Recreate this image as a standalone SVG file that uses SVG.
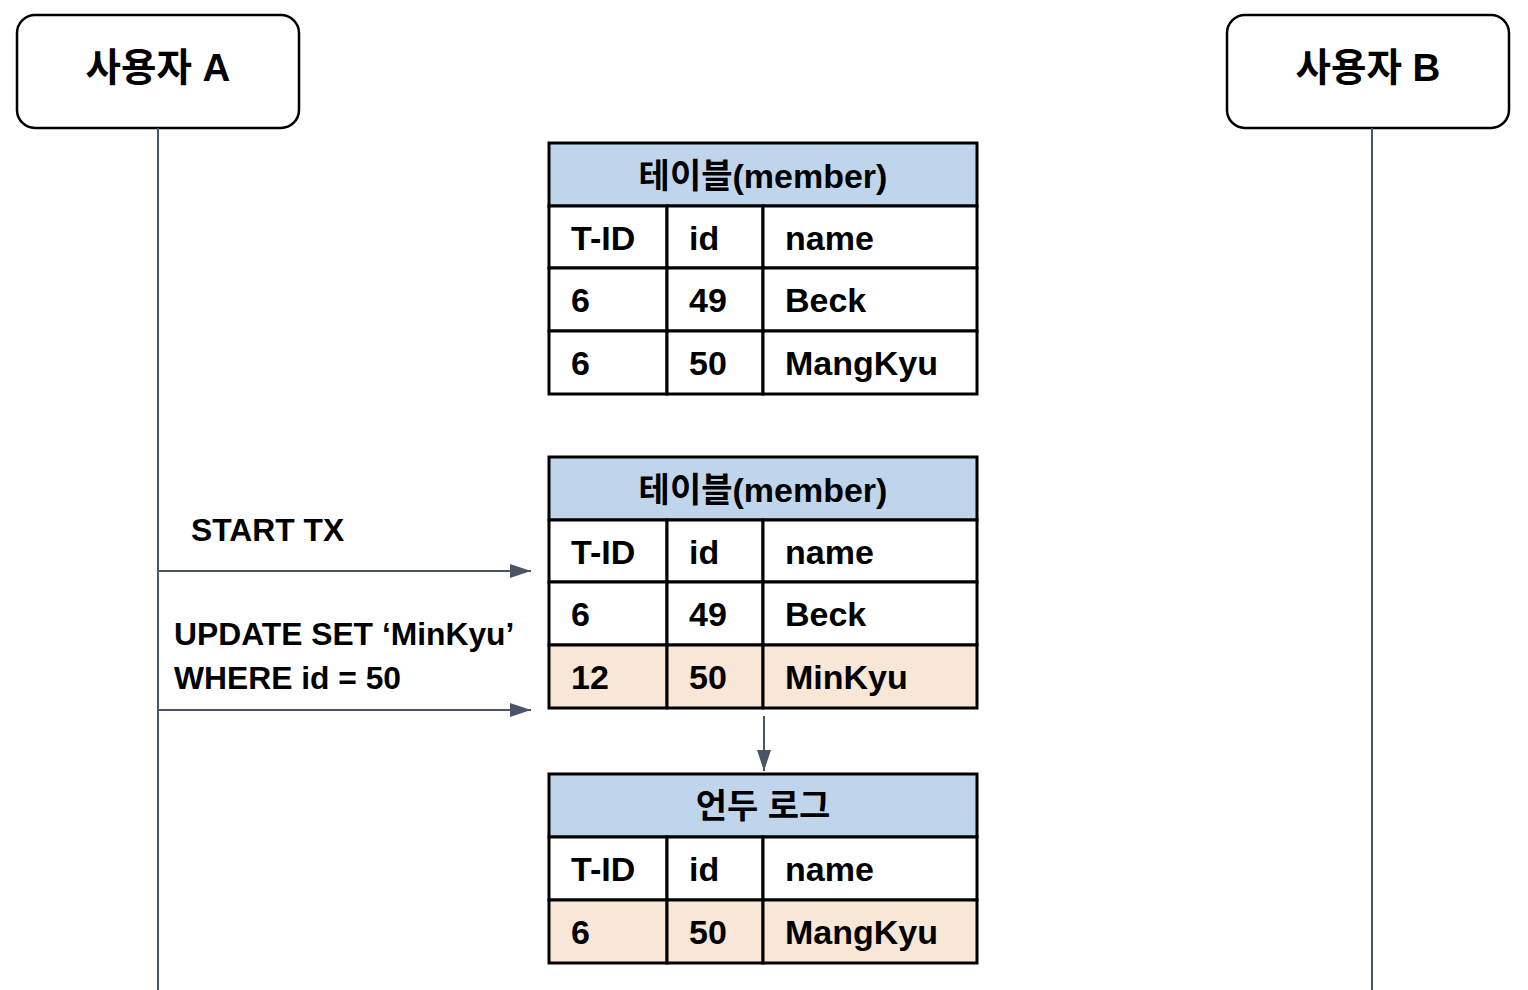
<svg xmlns="http://www.w3.org/2000/svg" width="1528" height="990" viewBox="0 0 1528 990">
<defs>
<marker id="arr" markerWidth="22" markerHeight="16" refX="21" refY="8" orient="auto" markerUnits="userSpaceOnUse">
<path d="M0,1 L21,8 L0,15 Z" fill="#4a5568"/>
</marker>
<style>
text{font-family:"Liberation Sans","Noto Sans CJK KR",Arial,sans-serif;font-weight:bold;fill:#000}
.actor{fill:#fff;stroke:#000;stroke-width:2.5}
.an{font-size:38.5px;text-anchor:middle}
.life{stroke:#4a5568;stroke-width:2;fill:none}
.conn{stroke:#4a5568;stroke-width:2;fill:none;marker-end:url(#arr)}
.hd{fill:#bfd5ec;stroke:#000;stroke-width:3}
.cell{fill:#fff;stroke:#000;stroke-width:3}
.hl{fill:#f8e6d7;stroke:#000;stroke-width:3}
.ht{font-size:34px;text-anchor:middle}
.ct{font-size:34px}
.lbl{font-size:31.8px}
</style>
</defs>
<rect width="1528" height="990" fill="#fff"/>
<g id="userA">
<rect class="actor" x="17" y="15" width="282" height="113" rx="18"/>
<text class="an" x="158" y="81">사용자 A</text>
</g>
<g id="userB">
<rect class="actor" x="1227" y="15" width="282" height="113" rx="18"/>
<text class="an" x="1368" y="81">사용자 B</text>
</g>
<g id="table1">
<rect class="hd" x="549" y="143" width="428" height="63"/>
<text class="ht" x="763" y="188">테이블(member)</text>
<rect class="cell" x="549" y="206" width="118" height="62"/>
<rect class="cell" x="667" y="206" width="96" height="62"/>
<rect class="cell" x="763" y="206" width="214" height="62"/>
<rect class="cell" x="549" y="268" width="118" height="63"/>
<rect class="cell" x="667" y="268" width="96" height="63"/>
<rect class="cell" x="763" y="268" width="214" height="63"/>
<rect class="cell" x="549" y="331" width="118" height="63"/>
<rect class="cell" x="667" y="331" width="96" height="63"/>
<rect class="cell" x="763" y="331" width="214" height="63"/>
<text class="ct" x="571" y="250">T-ID</text><text class="ct" x="689" y="250">id</text><text class="ct" x="785" y="250">name</text>
<text class="ct" x="571" y="312">6</text><text class="ct" x="689" y="312">49</text><text class="ct" x="785" y="312">Beck</text>
<text class="ct" x="571" y="375">6</text><text class="ct" x="689" y="375">50</text><text class="ct" x="785" y="375">MangKyu</text>
</g>
<g id="table2">
<rect class="hd" x="549" y="457" width="428" height="63"/>
<text class="ht" x="763" y="502">테이블(member)</text>
<rect class="cell" x="549" y="520" width="118" height="62"/>
<rect class="cell" x="667" y="520" width="96" height="62"/>
<rect class="cell" x="763" y="520" width="214" height="62"/>
<rect class="cell" x="549" y="582" width="118" height="63"/>
<rect class="cell" x="667" y="582" width="96" height="63"/>
<rect class="cell" x="763" y="582" width="214" height="63"/>
<rect class="hl" x="549" y="645" width="118" height="63"/>
<rect class="hl" x="667" y="645" width="96" height="63"/>
<rect class="hl" x="763" y="645" width="214" height="63"/>
<text class="ct" x="571" y="564">T-ID</text><text class="ct" x="689" y="564">id</text><text class="ct" x="785" y="564">name</text>
<text class="ct" x="571" y="626">6</text><text class="ct" x="689" y="626">49</text><text class="ct" x="785" y="626">Beck</text>
<text class="ct" x="571" y="689">12</text><text class="ct" x="689" y="689">50</text><text class="ct" x="785" y="689">MinKyu</text>
</g>
<g id="undo">
<rect class="hd" x="549" y="774" width="428" height="63"/>
<text class="ht" x="763" y="818">언두 로그</text>
<rect class="cell" x="549" y="837" width="118" height="63"/>
<rect class="cell" x="667" y="837" width="96" height="63"/>
<rect class="cell" x="763" y="837" width="214" height="63"/>
<rect class="hl" x="549" y="900" width="118" height="63"/>
<rect class="hl" x="667" y="900" width="96" height="63"/>
<rect class="hl" x="763" y="900" width="214" height="63"/>
<text class="ct" x="571" y="881">T-ID</text><text class="ct" x="689" y="881">id</text><text class="ct" x="785" y="881">name</text>
<text class="ct" x="571" y="944">6</text><text class="ct" x="689" y="944">50</text><text class="ct" x="785" y="944">MangKyu</text>
</g>
<g id="connectors">
<line class="life" x1="158" y1="128" x2="158" y2="990"/>
<line class="life" x1="1372" y1="128" x2="1372" y2="990"/>
<line class="conn" x1="158" y1="571" x2="531" y2="571"/>
<line class="conn" x1="158" y1="710" x2="531" y2="710"/>
<line class="conn" x1="764" y1="716" x2="764" y2="771"/>
<text class="lbl" x="191" y="541">START TX</text>
<text class="lbl" x="174" y="645">UPDATE SET ‘MinKyu’</text>
<text class="lbl" x="174" y="689">WHERE id = 50</text>
</g>
</svg>
